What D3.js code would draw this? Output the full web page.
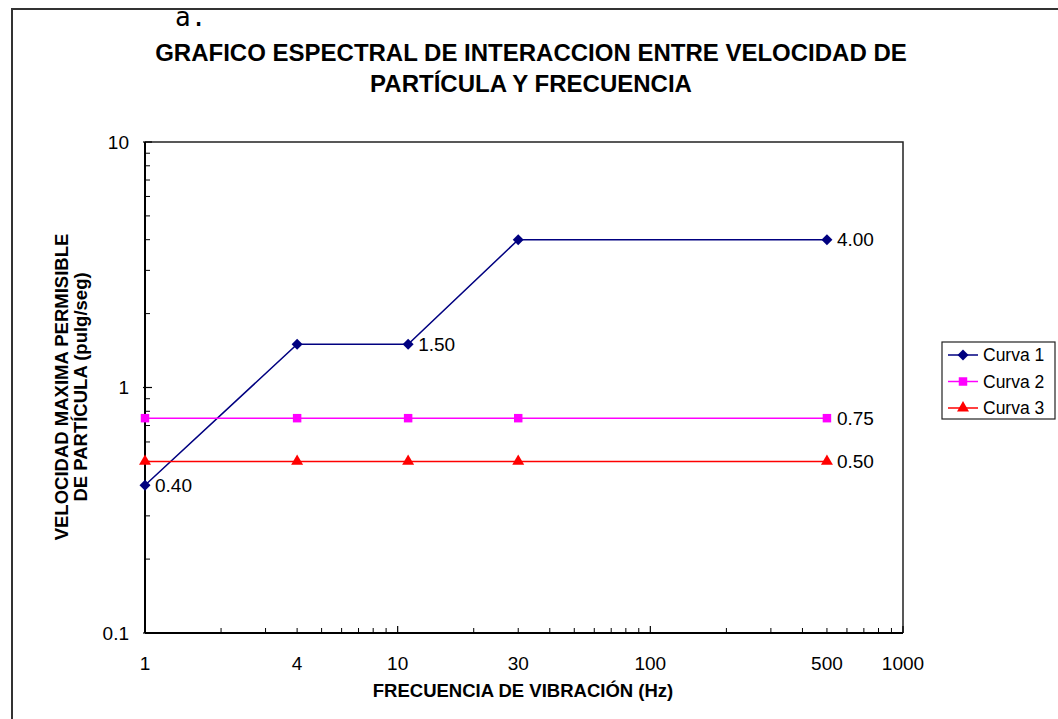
<!DOCTYPE html>
<html>
<head>
<meta charset="utf-8">
<script src="https://cdn.jsdelivr.net/npm/d3@7"></script>
<style>
  html, body { margin: 0; padding: 0; background: #fff; }
  svg { display: block; }
  text { font-family: "Liberation Sans", Arial, sans-serif; }
</style>
</head>
<body>
<svg id="chart" width="1058" height="719"></svg>
<script>
// ---- data ----
const frequencies = [1, 4, 11, 30, 500];
const curva1 = [0.40, 1.50, 1.50, 4.00, 4.00];
const curva2 = [0.75, 0.75, 0.75, 0.75, 0.75];
const curva3 = [0.50, 0.50, 0.50, 0.50, 0.50];
const seriesNames = ["Curva 1", "Curva 2", "Curva 3"];
const xTickValues = [1, 4, 10, 30, 100, 500, 1000];
const yTickValues = [0.1, 1, 10];
const titleLines = ["GRAFICO ESPECTRAL DE INTERACCION ENTRE VELOCIDAD DE", "PARTÍCULA Y FRECUENCIA"];
const yTitleLines = ["VELOCIDAD MAXIMA PERMISIBLE", "DE PARTÍCULA (pulg/seg)"];
const xTitle = "FRECUENCIA DE VIBRACIÓN (Hz)";
// data labels: [series index, point index]
const dataLabels = [[0, 0], [0, 2], [0, 4], [1, 4], [2, 4]];

const diamond = {
  draw(ctx, size) {
    const r = Math.sqrt(size / 2);
    ctx.moveTo(0, -r); ctx.lineTo(r, 0); ctx.lineTo(0, r); ctx.lineTo(-r, 0); ctx.closePath();
  }
};

const series = [
  { name: seriesNames[0], values: curva1, color: "#000080", shape: diamond, size: 60 },
  { name: seriesNames[1], values: curva2, color: "#FF00FF", shape: d3.symbolSquare, size: 72 },
  { name: seriesNames[2], values: curva3, color: "#FF0000", shape: d3.symbolTriangle, size: 62 }
];

const svg = d3.select("#chart");
const W = 1058, H = 719;
const plot = { left: 145, right: 903, top: 142, bottom: 633 };

// outer frame (top + left)
svg.append("path")
  .attr("d", `M12,${H} L12,9 L${W},9`)
  .attr("fill", "none").attr("stroke", "#333").attr("stroke-width", 2);

// "a."
svg.append("text").attr("x", 175).attr("y", 26)
  .style("font-family", "'DejaVu Sans Mono', monospace").style("font-size", "26px")
  .text("a.");

// title
svg.append("g").selectAll("text").data(titleLines).join("text")
  .attr("x", 531).attr("y", (d, i) => 61 + i * 31)
  .attr("text-anchor", "middle")
  .style("font-size", "24px").style("font-weight", "bold")
  .text(d => d);

const x = d3.scaleLog().domain([1, 1000]).range([plot.left, plot.right]);
const y = d3.scaleLog().domain([0.1, 10]).range([plot.bottom, plot.top]);

// plot border (top & right)
svg.append("path")
  .attr("d", `M${plot.left},${plot.top} L${plot.right},${plot.top} L${plot.right},${plot.bottom}`)
  .attr("fill", "none").attr("stroke", "#222").attr("stroke-width", 1.5);

// minor ticks
const xMinor = [];
for (let dec = 1; dec < 1000; dec *= 10) for (let k = 2; k <= 9; k++) xMinor.push(dec * k);
const yMinor = [];
for (let dec = 0.1; dec < 9; dec *= 10) for (let k = 2; k <= 9; k++) yMinor.push(+(dec * k).toPrecision(3));

const xAxisG = svg.append("g").attr("transform", `translate(0,${plot.bottom})`);
xAxisG.selectAll("line.minor").data(xMinor).join("line")
  .attr("x1", d => x(d)).attr("x2", d => x(d)).attr("y1", 0).attr("y2", -5)
  .attr("stroke", "#000").attr("stroke-width", 1);
xAxisG.selectAll("line.major").data([10, 100, 1000]).join("line")
  .attr("x1", d => x(d)).attr("x2", d => x(d)).attr("y1", 0).attr("y2", -7)
  .attr("stroke", "#000").attr("stroke-width", 1.2);
xAxisG.append("line").attr("x1", plot.left).attr("x2", plot.right).attr("y1", 0).attr("y2", 0)
  .attr("stroke", "#000").attr("stroke-width", 2);
xAxisG.selectAll("text").data(xTickValues).join("text")
  .attr("x", d => x(d)).attr("y", 37)
  .attr("text-anchor", "middle").style("font-size", "19px")
  .text(d => d);

const yAxisG = svg.append("g").attr("transform", `translate(${plot.left},0)`);
yAxisG.selectAll("line.minor").data(yMinor).join("line")
  .attr("y1", d => y(d)).attr("y2", d => y(d)).attr("x1", 0).attr("x2", 5)
  .attr("stroke", "#000").attr("stroke-width", 1);
yAxisG.selectAll("line.major").data(yTickValues).join("line")
  .attr("y1", d => y(d)).attr("y2", d => y(d)).attr("x1", -2).attr("x2", 7)
  .attr("stroke", "#000").attr("stroke-width", 1.2);
yAxisG.append("line").attr("x1", 0).attr("x2", 0).attr("y1", plot.top).attr("y2", plot.bottom)
  .attr("stroke", "#000").attr("stroke-width", 2);
yAxisG.selectAll("text").data(yTickValues).join("text")
  .attr("x", -16).attr("y", d => y(d)).attr("dy", "0.35em")
  .attr("text-anchor", "end").style("font-size", "19px")
  .text(d => d);

// axis titles
svg.append("text").attr("x", 523).attr("y", 697).attr("text-anchor", "middle")
  .style("font-size", "18.5px").style("font-weight", "bold").text(xTitle);
svg.append("g").attr("transform", `translate(68,387) rotate(-90)`)
  .selectAll("text").data(yTitleLines).join("text")
  .attr("x", 0).attr("y", (d, i) => i * 19)
  .attr("text-anchor", "middle")
  .style("font-size", "18.5px").style("font-weight", "bold")
  .text(d => d);

// series
const line = d3.line().x(d => x(d[0])).y(d => y(d[1]));
series.forEach(s => {
  const pts = frequencies.map((f, i) => [f, s.values[i]]);
  svg.append("path").datum(pts).attr("d", line)
    .attr("fill", "none").attr("stroke", s.color).attr("stroke-width", 1.5);
  svg.append("g").selectAll("path").data(pts).join("path")
    .attr("transform", d => `translate(${x(d[0])},${y(d[1])})`)
    .attr("d", d3.symbol().type(s.shape).size(s.size))
    .attr("fill", s.color);
});

// data labels
svg.append("g").selectAll("text").data(dataLabels).join("text")
  .attr("x", d => x(frequencies[d[1]]) + 10)
  .attr("y", d => y(series[d[0]].values[d[1]]))
  .attr("dy", "0.35em")
  .style("font-size", "19px")
  .text(d => series[d[0]].values[d[1]].toFixed(2));

// legend
const leg = svg.append("g").attr("transform", "translate(942,342)");
leg.append("rect").attr("x", 0).attr("y", 0).attr("width", 113).attr("height", 77)
  .attr("fill", "#fff").attr("stroke", "#222").attr("stroke-width", 1.2);
const items = leg.selectAll("g").data(series).join("g")
  .attr("transform", (d, i) => `translate(0,${13 + i * 26.5})`);
items.append("line").attr("x1", 6).attr("x2", 36).attr("y1", 0).attr("y2", 0)
  .attr("stroke", d => d.color).attr("stroke-width", 1.5);
items.append("path").attr("transform", "translate(21,0)")
  .attr("d", d => d3.symbol().type(d.shape).size(d.size)())
  .attr("fill", d => d.color);
items.append("text").attr("x", 41).attr("y", 0).attr("dy", "0.35em")
  .style("font-size", "17.5px").text(d => d.name);
</script>
</body>
</html>
